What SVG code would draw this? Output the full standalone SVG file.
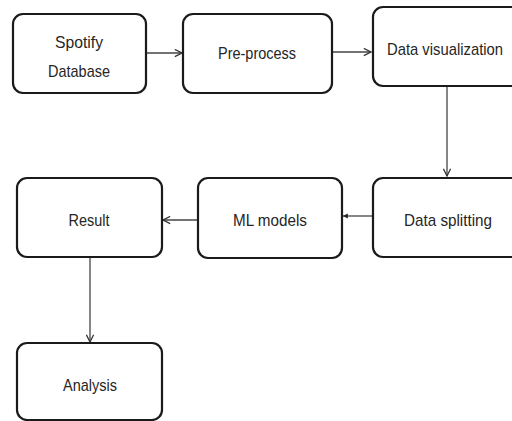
<svg xmlns="http://www.w3.org/2000/svg" width="512" height="421" viewBox="0 0 512 421">
<defs>
<style>
.box{fill:#fff;stroke:#1a1a1a;stroke-width:2.2}
.lbl{font-family:"Liberation Sans",Arial,sans-serif;font-size:17px;fill:#262626;text-anchor:middle}
.con{stroke:#444;stroke-width:1.3;fill:none}
</style>
<marker id="open" viewBox="0 0 10 10" refX="9" refY="5" markerWidth="9" markerHeight="9" markerUnits="userSpaceOnUse" orient="auto">
<path d="M1,1 L9,5 L1,9" fill="none" stroke="#333" stroke-width="1.4"/>
</marker>
<marker id="fill" viewBox="0 0 10 10" refX="9" refY="5" markerWidth="6" markerHeight="6" markerUnits="userSpaceOnUse" orient="auto">
<path d="M1,1 L9,5 L1,9 Z" fill="#222"/>
</marker>
</defs>
<rect width="512" height="421" fill="#fff"/>
<g id="connectors">
<line class="con" x1="147" y1="53" x2="182" y2="53" marker-end="url(#open)"/>
<line class="con" x1="333" y1="52" x2="371" y2="52" marker-end="url(#open)"/>
<line class="con" x1="447" y1="87" x2="447" y2="176" marker-end="url(#open)"/>
<line class="con" x1="372" y1="216" x2="343" y2="216" marker-end="url(#fill)"/>
<line class="con" x1="197" y1="220" x2="163" y2="220" marker-end="url(#open)"/>
<line class="con" x1="90" y1="258" x2="90" y2="342" marker-end="url(#open)"/>
</g>
<g id="spotify">
<rect class="box" x="13" y="14" width="133" height="79" rx="10"/>
<text class="lbl" x="79" y="48" textLength="48" lengthAdjust="spacingAndGlyphs">Spotify</text>
<text class="lbl" x="79" y="77" textLength="62" lengthAdjust="spacingAndGlyphs">Database</text>
</g>
<g id="preprocess">
<rect class="box" x="183" y="14" width="149" height="79" rx="10"/>
<text class="lbl" x="257" y="59" textLength="78" lengthAdjust="spacingAndGlyphs">Pre-process</text>
</g>
<g id="datavis">
<rect class="box" x="373" y="7" width="152" height="79" rx="10"/>
<text class="lbl" x="445" y="55" textLength="116" lengthAdjust="spacingAndGlyphs">Data visualization</text>
</g>
<g id="datasplit">
<rect class="box" x="373" y="178" width="152" height="79" rx="10"/>
<text class="lbl" x="448" y="226" textLength="88" lengthAdjust="spacingAndGlyphs">Data splitting</text>
</g>
<g id="mlmodels">
<rect class="box" x="198" y="178" width="144" height="80" rx="10"/>
<text class="lbl" x="270" y="226" textLength="74" lengthAdjust="spacingAndGlyphs">ML models</text>
</g>
<g id="result">
<rect class="box" x="17" y="178" width="145" height="79" rx="10"/>
<text class="lbl" x="89" y="226" textLength="41" lengthAdjust="spacingAndGlyphs">Result</text>
</g>
<g id="analysis">
<rect class="box" x="17" y="343" width="145" height="77" rx="10"/>
<text class="lbl" x="90" y="391" textLength="54" lengthAdjust="spacingAndGlyphs">Analysis</text>
</g>
</svg>
